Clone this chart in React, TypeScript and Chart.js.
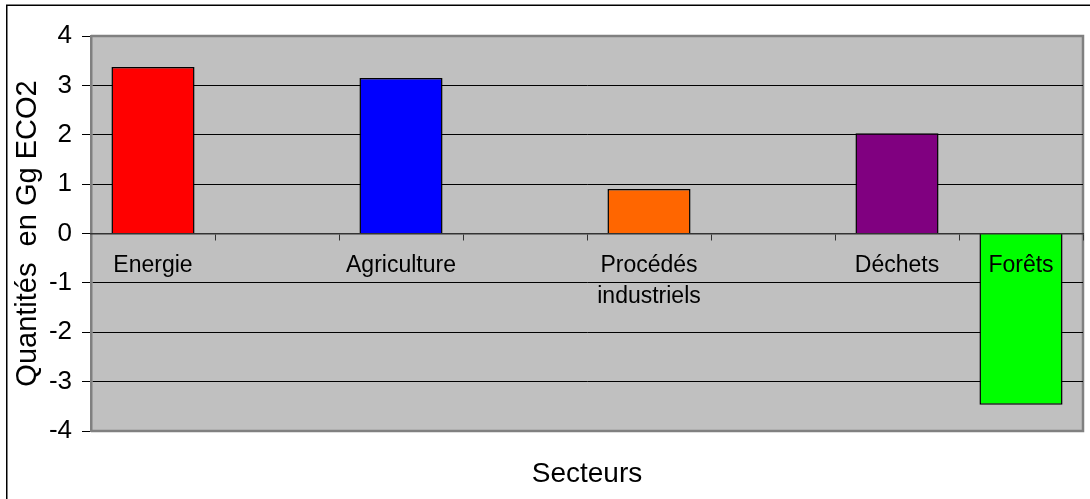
import React, { useEffect, useRef } from "react";
import { Chart, registerables } from "chart.js";

Chart.register(...registerables);

const categories: (string | string[])[] = [
  "Energie",
  "",
  "Agriculture",
  "",
  ["Procédés", "industriels"],
  "",
  "Déchets",
  "Forêts",
];
const values: (number | null)[] = [3.37, null, 3.15, null, 0.9, null, 2.03, -3.47];
const barColors: string[] = [
  "#FF0000",
  "#000000",
  "#0000FF",
  "#000000",
  "#FF6600",
  "#000000",
  "#800080",
  "#00FF00",
];
const yTitle = "Quantités  en Gg ECO2";
const xTitle = "Secteurs";
const yMin = -4;
const yMax = 4;

const FONT = "'Liberation Sans', Arial, sans-serif";

const bgPlugin = {
  id: "bgPlugin",
  beforeDraw(chart: any) {
    const { ctx, chartArea } = chart;
    const { left, top, right, bottom } = chartArea;
    ctx.save();
    ctx.fillStyle = "#FFFFFF";
    ctx.fillRect(0, 0, chart.width, chart.height);
    ctx.strokeStyle = "#000000";
    ctx.lineWidth = 1.5;
    ctx.strokeRect(6.75, 5.25, chart.width + 50, chart.height + 50);
    ctx.fillStyle = "#C0C0C0";
    ctx.fillRect(left, top, right - left, bottom - top);
    ctx.strokeStyle = "#808080";
    ctx.lineWidth = 2.5;
    ctx.beginPath();
    ctx.moveTo(left, top);
    ctx.lineTo(right, top);
    ctx.lineTo(right, bottom);
    ctx.lineTo(left, bottom);
    ctx.stroke();
    ctx.restore();
  },
};

export default function App() {
  const ref = useRef<HTMLCanvasElement | null>(null);
  useEffect(() => {
    document.body.style.margin = "0";
    const canvas = ref.current;
    if (!canvas) return;
    const chart = new Chart(canvas, {
      type: "bar",
      data: {
        labels: categories as any,
        datasets: [
          {
            data: values as any,
            backgroundColor: barColors,
            borderColor: "#000000",
            borderWidth: 1.5,
            categoryPercentage: 1,
            barPercentage: 0.67,
            xAxisID: "x",
            yAxisID: "y",
          },
        ],
      },
      options: {
        animation: false,
        responsive: true,
        maintainAspectRatio: false,
        events: [],
        layout: { padding: { top: 36, right: 7, left: 0, bottom: 0 } },
        plugins: {
          legend: { display: false },
          tooltip: { enabled: false },
        },
        scales: {
          x: {
            type: "category",
            position: { y: 0 } as any,
            offset: true,
            grid: {
              display: true,
              drawOnChartArea: false,
              drawTicks: true,
              tickLength: 6,
              color: "#333333",
              offset: true,
            },
            border: { display: true, color: "#333333", width: 1.5, z: 1 },
            ticks: {
              autoSkip: false,
              maxRotation: 0,
              minRotation: 0,
              padding: 11,
              color: "#000000",
              z: 2,
              font: { family: FONT, size: 23, lineHeight: 1.35 },
            },
          },
          x2: {
            type: "category",
            position: "bottom",
            labels: categories as any,
            offset: true,
            grid: { display: false },
            border: { display: false },
            ticks: { display: false },
            title: {
              display: true,
              text: xTitle,
              color: "#000000",
              font: { family: FONT, size: 28 },
              padding: { top: 0, bottom: 8 },
            },
            afterFit(scale: any) {
              scale.height = 68;
            },
          },
          y: {
            type: "linear",
            min: yMin,
            max: yMax,
            position: "left",
            ticks: {
              stepSize: 1,
              padding: 10,
              color: "#000000",
              font: { family: FONT, size: 26 },
            },
            grid: {
              color: (ctx: any) =>
                ctx.tick && (ctx.tick.value === yMax || ctx.tick.value === yMin)
                  ? "rgba(0,0,0,0)"
                  : "#000000",
              tickColor: "#000000",
              tickLength: 9,
              lineWidth: 1,
            },
            border: { display: true, color: "#808080", width: 2.5 },
            title: {
              display: true,
              text: yTitle,
              color: "#000000",
              font: { family: FONT, size: 29 },
              padding: { top: 11, bottom: 0 },
            },
            afterFit(scale: any) {
              scale.width = 91;
            },
          },
        },
      },
      plugins: [bgPlugin],
    });
    return () => chart.destroy();
  }, []);
  return (
    <div style={{ position: "relative", width: 1090, height: 499 }}>
      <canvas ref={ref} />
    </div>
  );
}
